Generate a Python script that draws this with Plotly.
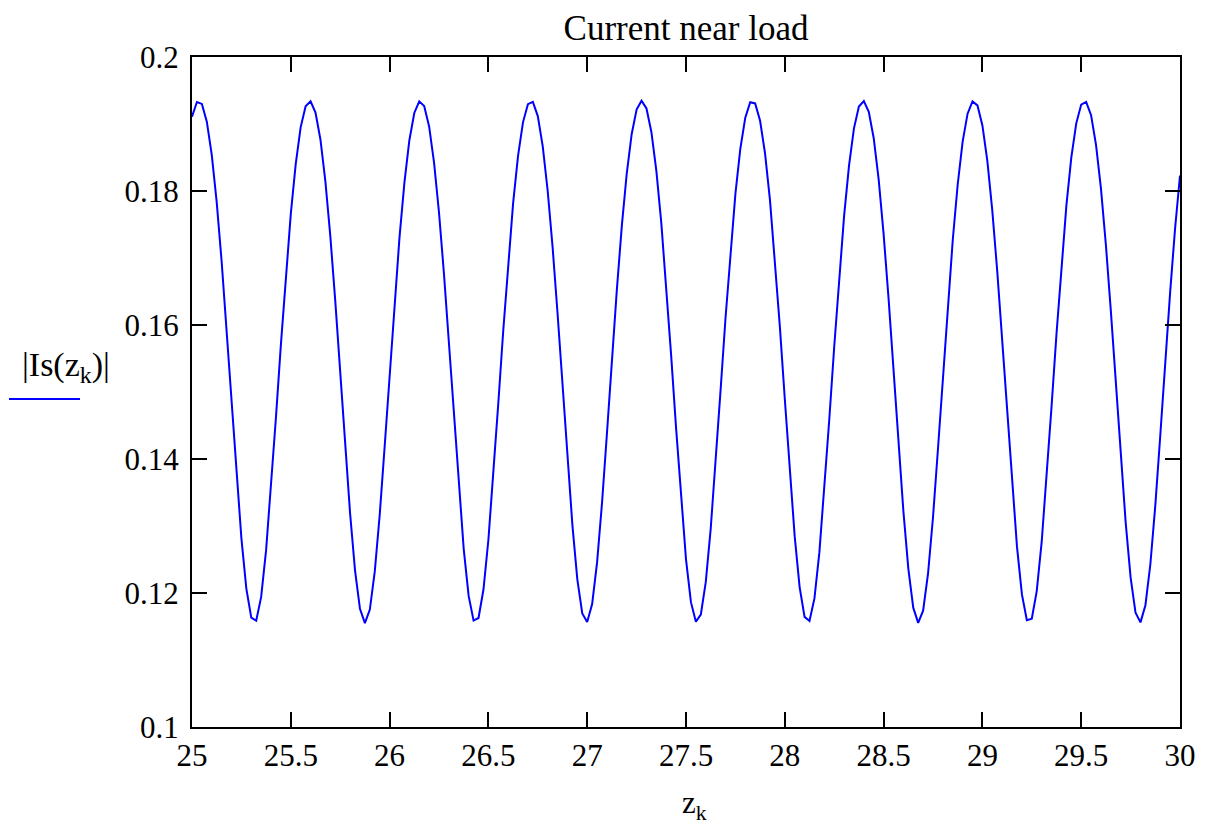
import plotly.graph_objects as go

# z_k sample points (25 .. 30 step 0.025)
z_start = 25.0
z_step = 0.025
is_mag = [
    0.19109, 0.19328, 0.19300, 0.19034, 0.18538, 0.17834, 0.16948, 0.15935, 0.14854, 0.13780,
    0.12815, 0.12066, 0.11633, 0.11586, 0.11942, 0.12639, 0.13569, 0.14627, 0.15714, 0.16746,
    0.17659, 0.18406, 0.18954, 0.19266, 0.19339, 0.19171, 0.18769, 0.18144, 0.17326, 0.16360,
    0.15298, 0.14211, 0.13190, 0.12339, 0.11764, 0.11551, 0.11753, 0.12322, 0.13168, 0.14186,
    0.15272, 0.16336, 0.17304, 0.18126, 0.18758, 0.19165, 0.19338, 0.19270, 0.18964, 0.18422,
    0.17679, 0.16769, 0.15739, 0.14653, 0.13593, 0.12659, 0.11956, 0.11588, 0.11627, 0.12052,
    0.12795, 0.13755, 0.14828, 0.15910, 0.16925, 0.17814, 0.18524, 0.19025, 0.19296, 0.19329,
    0.19118, 0.18667, 0.18004, 0.17158, 0.16171, 0.15097, 0.14016, 0.13017, 0.12204, 0.11694,
    0.11566, 0.11835, 0.12457, 0.13344, 0.14385, 0.15472, 0.16524, 0.17472, 0.18257, 0.18847,
    0.19215, 0.19348, 0.19232, 0.18877, 0.18299, 0.17524, 0.16588, 0.15540, 0.14453, 0.13407,
    0.12503, 0.11863, 0.11572, 0.11677, 0.12162, 0.12958, 0.13950, 0.15029, 0.16105, 0.17102,
    0.17957, 0.18631, 0.19094, 0.19325, 0.19307, 0.19048, 0.18560, 0.17865, 0.16986, 0.15976,
    0.14896, 0.13821, 0.12848, 0.12089, 0.11644, 0.11583, 0.11919, 0.12606, 0.13530, 0.14585,
    0.15672, 0.16708, 0.17626, 0.18380, 0.18935, 0.19260, 0.19341, 0.19182, 0.18788, 0.18174,
    0.17361, 0.16400, 0.15340, 0.14253, 0.13227, 0.12368, 0.11781, 0.11555, 0.11736, 0.12294,
    0.13131, 0.14145, 0.15230, 0.16296, 0.17269, 0.18097, 0.18738, 0.19154, 0.19336, 0.19277,
    0.18979, 0.18448, 0.17712, 0.16807, 0.15780, 0.14695, 0.13632, 0.12692, 0.11979, 0.11594,
    0.11616, 0.12029, 0.12762, 0.13716, 0.14785, 0.15868, 0.16887, 0.17781, 0.18501, 0.19010,
    0.19290, 0.19331, 0.19132, 0.18690, 0.18034, 0.17194, 0.16211, 0.15140, 0.14057, 0.13054,
    0.12233, 0.11705, 0.11562, 0.11818, 0.12429, 0.13305, 0.14343, 0.15430, 0.16484, 0.17436,
    0.18231,
]
z_k = [round(z_start + i * z_step, 4) for i in range(len(is_mag))]

x_ticks = [25, 25.5, 26, 26.5, 27, 27.5, 28, 28.5, 29, 29.5, 30]
x_tick_labels = ["25", "25.5", "26", "26.5", "27", "27.5", "28", "28.5", "29", "29.5", "30"]
y_ticks = [0.1, 0.12, 0.14, 0.16, 0.18, 0.2]
y_tick_labels = ["0.1", "0.12", "0.14", "0.16", "0.18", "0.2"]

FONT = '"Liberation Serif", "Times New Roman", Times, serif'
OFF = 8  # page body margin
W, H = 1201, 819
# plot area in screen pixels: x 192..1180, y 57..727
ML, MT = 192 - OFF, 57 - OFF
PW, PH = 988, 670
MR, MB = W - ML - PW, H - MT - PH


def px_x(px):
    return (px - OFF - ML) / PW


def px_y(py):
    return (MT + PH - (py - OFF)) / PH


fig = go.Figure()
fig.add_trace(go.Scatter(
    x=z_k, y=is_mag, mode="lines",
    line=dict(color="#0000ff", width=2),
    showlegend=False, hoverinfo="x+y",
))

axis_common = dict(
    showgrid=False, zeroline=False,
    showline=True, linecolor="black", linewidth=2,
    mirror="ticks", ticks="inside", ticklen=15, tickwidth=2, tickcolor="black",
    tickfont=dict(family=FONT, size=31, color="black"),
)

fig.update_layout(
    width=W, height=H, autosize=False,
    margin=dict(l=ML, r=MR, t=MT, b=MB),
    paper_bgcolor="white", plot_bgcolor="white",
    font=dict(family=FONT, color="black"),
    title=dict(text="Current near load", x=0.5, xref="paper", xanchor="center",
               y=1 - (28 - OFF) / H, yref="container", yanchor="middle",
               font=dict(family=FONT, size=35, color="black")),
    xaxis=dict(range=[25, 30], tickmode="array", tickvals=x_ticks, ticktext=x_tick_labels,
               **axis_common),
    yaxis=dict(range=[0.1, 0.2], tickmode="array", tickvals=y_ticks, ticktext=y_tick_labels,
               ticklabelstandoff=5, **axis_common),
)

fig.add_annotation(
    text="|Is(z<sub>k</sub>)|", xref="paper", yref="paper",
    x=px_x(66), y=px_y(367), xanchor="center", yanchor="middle",
    showarrow=False, font=dict(family=FONT, size=34, color="black"),
)
fig.add_shape(type="line", xref="paper", yref="paper",
              x0=px_x(9), x1=px_x(80), y0=px_y(399), y1=px_y(399),
              line=dict(color="#0000ff", width=2))
fig.add_annotation(
    text="z<sub>k</sub>", xref="paper", yref="paper",
    x=px_x(694), y=px_y(805), xanchor="center", yanchor="middle",
    showarrow=False, font=dict(family=FONT, size=31, color="black"),
)

fig.write_html("out.html")
